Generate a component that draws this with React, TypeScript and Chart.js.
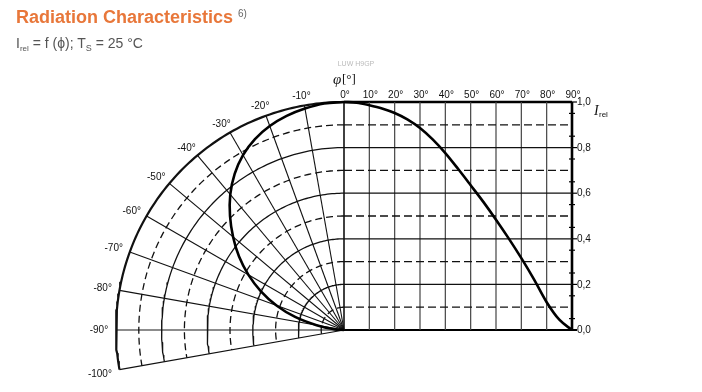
import React, { useEffect, useRef } from "react";
import { Chart, registerables } from "chart.js";

Chart.register(...registerables);

const WIDTH = 702;
const HEIGHT = 392;
// pole of the polar diagram and the length of I_rel = 1 in pixels
const POLE_X = 344;
const POLE_Y = 330;
const UNIT = 228;

// radiation characteristic: emission angle (deg) and relative intensity
const angleDeg = [0, 5, 10, 15, 20, 25, 30, 35, 40, 45, 50, 55, 60, 65, 70, 75, 80, 85, 90];
const relIntensity = [
  1.0, 0.997, 0.986, 0.972, 0.952, 0.924, 0.886, 0.836, 0.776, 0.707, 0.635, 0.562, 0.484,
  0.402, 0.315, 0.222, 0.122, 0.045, 0.0,
];

// polar grid
const ringRadii = [0.1, 0.2, 0.3, 0.4, 0.5, 0.6, 0.7, 0.8, 0.9, 1.0];
const spokeDeg = [-10, -20, -30, -40, -50, -60, -70, -80, -90, -100];
const spokeLabels = ["-10°", "-20°", "-30°", "-40°", "-50°", "-60°", "-70°", "-80°", "-90°", "-100°"];

// cartesian grid
const columnDeg = [0, 10, 20, 30, 40, 50, 60, 70, 80, 90];
const columnLabels = ["0°", "10°", "20°", "30°", "40°", "50°", "60°", "70°", "80°", "90°"];
const rowValues = [0.1, 0.2, 0.3, 0.4, 0.5, 0.6, 0.7, 0.8, 0.9];
const intensityTicks = [0.0, 0.2, 0.4, 0.6, 0.8, 1.0];
const intensityTickLabels = ["0,0", "0,2", "0,4", "0,6", "0,8", "1,0"];
const minorTicks = [0.05, 0.15, 0.25, 0.35, 0.45, 0.55, 0.65, 0.75, 0.85, 0.95];

const SANS = '"Liberation Sans", Arial, Helvetica, sans-serif';
const SERIF = '"Liberation Serif", "Times New Roman", serif';

type Pt = { x: number; y: number };

const rad = (d: number) => (d * Math.PI) / 180;
// angle measured from the vertical axis, negative to the left
const polar = (deg: number, r: number): Pt => ({ x: r * Math.sin(rad(deg)), y: r * Math.cos(rad(deg)) });

const line = (
  data: Pt[],
  color: string,
  width: number,
  dash: number[] = [],
  order = 2,
  tension = 0
) => ({
  data,
  borderColor: color,
  borderWidth: width,
  borderDash: dash,
  borderCapStyle: "butt" as const,
  borderJoinStyle: "round" as const,
  showLine: true,
  pointRadius: 0,
  pointHoverRadius: 0,
  fill: false,
  tension,
  order,
});

function arc(r: number): Pt[] {
  const pts: Pt[] = [];
  for (let a = 0; a >= -100; a -= 1) pts.push(polar(a, r));
  return pts;
}

function buildDatasets() {
  const sets: any[] = [];
  const px = 1 / UNIT;

  // polar rings
  ringRadii.forEach((r, i) => {
    const last = i === ringRadii.length - 1;
    const dashed = i % 2 === 0;
    sets.push(line(arc(r), "#111", last ? 2.2 : 1.3, dashed ? [7, 4] : []));
  });

  // polar spokes
  spokeDeg.forEach((d) => {
    const horizontal = d === -90;
    sets.push(line([polar(d, 0), polar(d, 1)], horizontal ? "#666" : "#111", horizontal ? 1.6 : 1.1));
  });

  // cartesian rows
  rowValues.forEach((v, i) => {
    const dashed = i % 2 === 0;
    sets.push(line([{ x: 0, y: v }, { x: 1, y: v }], "#111", 1.3, dashed ? [8, 4] : []));
  });

  // cartesian columns
  columnDeg.slice(1, -1).forEach((d) => {
    sets.push(line([{ x: d / 90, y: 0 }, { x: d / 90, y: 1 }], "#444", 1.2));
  });
  sets.push(line([{ x: 0, y: 0 }, { x: 0, y: 1 }], "#111", 1.6));

  // frame: top edge, right intensity axis, base line
  sets.push(line([{ x: 0, y: 1 }, { x: 1, y: 1 }], "#000", 2.6));
  sets.push(line([{ x: 1, y: 0 }, { x: 1, y: 1 }], "#000", 2.6));
  sets.push(line([{ x: 0, y: 0 }, { x: 1 + 5 * px, y: 0 }], "#000", 2.2));

  // intensity axis ticks
  intensityTicks.forEach((v) => {
    sets.push(line([{ x: 1, y: v }, { x: 1 + 5 * px, y: v }], "#000", 1.2));
  });
  minorTicks.forEach((v) => {
    sets.push(line([{ x: 1 - 3 * px, y: v }, { x: 1 + 3 * px, y: v }], "#000", 1.2));
  });

  // the characteristic in polar form (left) and over angle (right)
  sets.push(line(angleDeg.map((a, i) => polar(-a, relIntensity[i])), "#000", 2.6, [], 0, 0.4));
  const cart: any = line(
    angleDeg.map((a, i) => ({ x: a / 90, y: relIntensity[i] })),
    "#000",
    2.6,
    [],
    0,
    0.4
  );
  cart.cubicInterpolationMode = "monotone";
  sets.push(cart);

  return sets;
}

const labelPlugin = {
  id: "diagramLabels",
  afterDatasetsDraw(chart: any) {
    const { ctx } = chart;
    const xs = chart.scales.x;
    const ys = chart.scales.y;
    const X = (v: number) => xs.getPixelForValue(v);
    const Y = (v: number) => ys.getPixelForValue(v);

    ctx.save();
    ctx.fillStyle = "#111";

    // angle labels above the cartesian part
    ctx.font = `10px ${SANS}`;
    ctx.textAlign = "center";
    ctx.textBaseline = "alphabetic";
    columnDeg.forEach((d, i) => {
      ctx.fillText(columnLabels[i], X(d / 90) + 1, Y(1) - 4);
    });

    // angle labels around the polar part
    ctx.textBaseline = "middle";
    spokeDeg.forEach((d, i) => {
      const p = polar(d, 1.03);
      const dir = polar(d, 1);
      const w = ctx.measureText(spokeLabels[i]).width;
      const cx = X(p.x) + dir.x * (w / 2 + 1);
      const cy = Y(p.y) - dir.y * 3 + (dir.y < 0 ? 3 : 0);
      ctx.fillText(spokeLabels[i], cx, cy);
    });

    // intensity axis labels
    ctx.textAlign = "left";
    intensityTicks.forEach((v, i) => {
      ctx.fillText(intensityTickLabels[i], X(1) + 5, Y(v) + 0.5);
    });

    // axis titles
    ctx.textBaseline = "alphabetic";
    ctx.font = `italic 14px ${SERIF}`;
    ctx.fillText("I", X(1) + 22, Y(1) + 13);
    ctx.font = `8px ${SANS}`;
    ctx.fillText("rel", X(1) + 27, Y(1) + 15);

    ctx.font = `italic 15px ${SERIF}`;
    ctx.fillText("φ", X(0) - 11, Y(1) - 18);
    ctx.font = `13px ${SERIF}`;
    ctx.fillText("[°]", X(0) - 2, Y(1) - 19);

    // type designation
    ctx.font = `7px ${SANS}`;
    ctx.fillStyle = "#bbb";
    ctx.textAlign = "center";
    ctx.fillText("LUW H9GP", X(0) + 12, Y(1) - 36);

    ctx.restore();
  },
};

export default function App() {
  const canvasRef = useRef<HTMLCanvasElement | null>(null);

  useEffect(() => {
    const canvas = canvasRef.current;
    if (!canvas) return;
    const chart = new Chart(canvas, {
      type: "scatter",
      data: { datasets: buildDatasets() },
      options: {
        responsive: false,
        animation: false,
        events: [],
        layout: { padding: 0 },
        scales: {
          x: { type: "linear", min: -POLE_X / UNIT, max: (WIDTH - POLE_X) / UNIT, display: false },
          y: { type: "linear", min: -(HEIGHT - POLE_Y) / UNIT, max: POLE_Y / UNIT, display: false },
        },
        plugins: { legend: { display: false }, tooltip: { enabled: false } },
      },
      plugins: [labelPlugin],
    } as any);
    return () => chart.destroy();
  }, []);

  return (
    <div style={{ position: "absolute", left: 0, top: 0, width: WIDTH, height: HEIGHT, background: "#fff" }}>
      <canvas
        ref={canvasRef}
        width={WIDTH}
        height={HEIGHT}
        style={{ position: "absolute", left: 0, top: 0, width: WIDTH, height: HEIGHT }}
      />
      <div
        style={{
          position: "absolute",
          left: 16,
          top: 8,
          font: `bold 18px ${SANS}`,
          lineHeight: "18px",
          color: "#E8773A",
          whiteSpace: "nowrap",
        }}
      >
        Radiation Characteristics
      </div>
      <div
        style={{
          position: "absolute",
          left: 238,
          top: 9,
          font: `10px ${SANS}`,
          lineHeight: "10px",
          color: "#666",
        }}
      >
        6)
      </div>
      <div
        style={{
          position: "absolute",
          left: 16,
          top: 36,
          font: `14px ${SANS}`,
          lineHeight: "14px",
          color: "#555",
          whiteSpace: "nowrap",
        }}
      >
        I
        <span style={{ fontSize: 8, position: "relative", top: 3 }}>rel</span>
        {" = f (ϕ); T"}
        <span style={{ fontSize: 9, position: "relative", top: 3 }}>S</span>
        {" = 25 °C"}
      </div>
    </div>
  );
}
